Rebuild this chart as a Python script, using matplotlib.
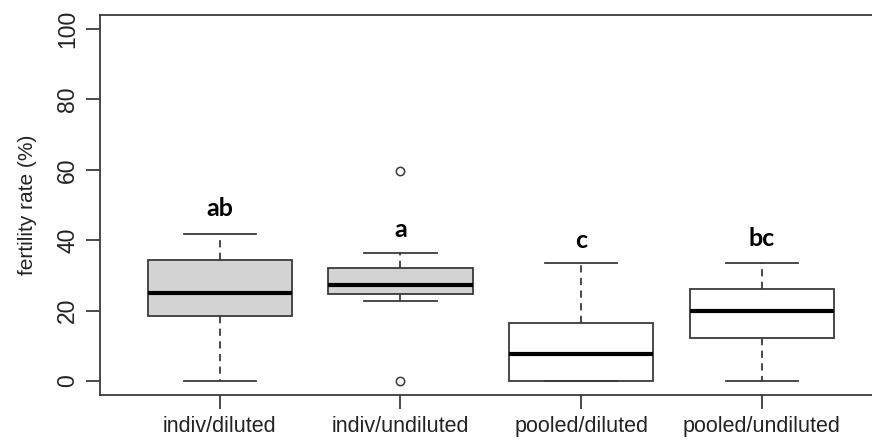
import matplotlib
matplotlib.use("Agg")
import matplotlib.pyplot as plt

# groups and box statistics (fertility rate, %)
groups = ["indiv/diluted", "indiv/undiluted", "pooled/diluted", "pooled/undiluted"]
whislo = [0.0, 22.8, 0.0, 0.0]
q1 = [18.4, 24.8, 0.0, 12.2]
med = [25.0, 27.2, 7.7, 19.9]
q3 = [34.4, 32.1, 16.6, 26.1]
whishi = [41.8, 36.4, 33.4, 33.4]
fliers = [[], [59.6, 0.0], [], []]
letters = ["ab", "a", "c", "bc"]
letter_y = [49.0, 43.0, 40.0, 40.5]
fills = ["#D3D3D3", "#D3D3D3", "white", "white"]

edge = "#3a3a3a"

fig = plt.figure(figsize=(8.72, 4.43), dpi=100)
ax = fig.add_axes([100 / 872, 48 / 443, 772 / 872, 380 / 443])

stats = []
for i, name in enumerate(groups):
    stats.append(dict(label=name, whislo=whislo[i], q1=q1[i], med=med[i],
                      q3=q3[i], whishi=whishi[i], fliers=fliers[i]))

pos = list(range(1, len(groups) + 1))
bp = ax.bxp(stats, positions=pos, widths=0.8, patch_artist=True,
            boxprops=dict(edgecolor=edge, linewidth=1.3),
            medianprops=dict(color="black", linewidth=3, solid_capstyle="butt"),
            whiskerprops=dict(color=edge, linewidth=1.3, linestyle=(0, (4, 3))),
            capprops=dict(color=edge, linewidth=1.3),
            flierprops=dict(marker="o", markersize=6, markerfacecolor="none",
                            markeredgecolor=edge, markeredgewidth=1.1))
for patch, c in zip(bp["boxes"], fills):
    patch.set_facecolor(c)
# caps are half the box width in R
for i, cap in enumerate(bp["caps"]):
    p = pos[i // 2]
    cap.set_xdata([p - 0.2, p + 0.2])

for p, lab, y in zip(pos, letters, letter_y):
    ax.text(p, y, lab, ha="center", va="center", fontsize=18,
            fontweight="bold", family="Lato", color="black")

ax.set_xlim(0.337, 4.61)
ax.set_ylim(-4, 104)
ax.set_yticks([0, 20, 40, 60, 80, 100])
ax.set_xticks(pos)
ax.set_xticklabels(groups, family="Liberation Sans", fontsize=15.5, color="#222222")
for t in ax.get_yticklabels():
    t.set_rotation(90)
    t.set_va("center")
    t.set_family("Liberation Sans")
    t.set_fontsize(16.5)
    t.set_color("#222222")
ax.set_ylabel("fertility rate (%)", family="Liberation Sans", fontsize=15,
              color="#222222", labelpad=14)

for s in ["left", "top", "bottom"]:
    ax.spines[s].set_color(edge)
    ax.spines[s].set_linewidth(1.3)
ax.spines["right"].set_visible(False)
ax.tick_params(axis="both", length=10, width=1.3, color=edge, pad=5)

fig.savefig("out.png", dpi=100)
